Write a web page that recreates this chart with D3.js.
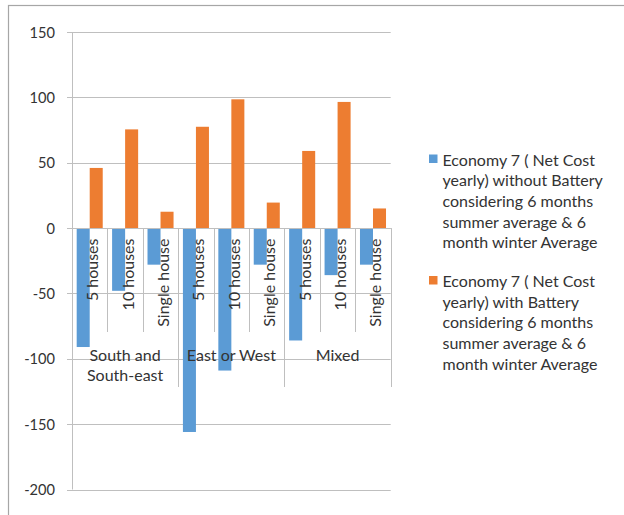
<!DOCTYPE html>
<html>
<head>
<meta charset="utf-8">
<script src="https://cdn.jsdelivr.net/npm/d3@7"></script>
<style>
  html, body { margin: 0; padding: 0; background: #fff; }
  svg text { font-family: Lato, "Open Sans", sans-serif; fill: #333; }
</style>
</head>
<body>
<svg id="chart" width="624" height="515"></svg>
<script>
// Net yearly cost, Economy 7 tariff, by orientation group and installation size
const groups = ["South and\nSouth-east", "East or West", "Mixed"];
const sizes = ["5 houses", "10 houses", "Single house"];
const withoutBattery = [-91, -48, -28, -156, -109, -28, -86, -36, -28];
const withBattery = [46, 75.5, 12.5, 77.5, 98.5, 19.5, 59, 96.5, 15];
const yTicks = [-200, -150, -100, -50, 0, 50, 100, 150];
const seriesNames = [
  "Economy 7 ( Net Cost yearly) without Battery considering 6 months summer average & 6 month winter Average",
  "Economy 7 ( Net Cost yearly) with Battery considering 6 months summer average & 6 month winter Average"
];
const legendLines = [
  ["Economy 7 ( Net Cost", "yearly) without Battery", "considering 6 months", "summer average & 6", "month winter Average"],
  ["Economy 7 ( Net Cost", "yearly) with Battery", "considering 6 months", "summer average & 6", "month winter Average"]
];
const colors = ["#5b9bd5", "#ed7d31"];

const svg = d3.select("#chart");
const gridColor = "#bfbfbf";
const tickFont = 14.6;
const labelFont = 16;

// Outer frame (continues past the right and bottom edges)
svg.append("rect")
  .attr("x", 8.5).attr("y", 5.5).attr("width", 700).attr("height", 600)
  .attr("fill", "none").attr("stroke", "#a6a6a6").attr("stroke-width", 1.2);

// Category keys: one per (group, size)
const cats = [];
groups.forEach((g, gi) => sizes.forEach((s, si) => cats.push({ key: gi + "-" + si, group: gi, size: s })));

const left = 72, right = 390.7;
const x = d3.scaleBand().domain(cats.map(c => c.key)).range([left, right]).padding(0);
const xs = d3.scaleBand().domain([0, 1]).range([0, x.bandwidth()]).paddingOuter(0.36).paddingInner(0);
const y = d3.scaleLinear().domain([-200, 150]).range([489.5, 32]);

// Horizontal gridlines (with small outward ticks)
svg.append("g").selectAll("line").data(yTicks).join("line")
  .attr("x1", left - 5).attr("x2", right)
  .attr("y1", d => Math.round(y(d)) + 0.5).attr("y2", d => Math.round(y(d)) + 0.5)
  .attr("stroke", gridColor).attr("stroke-width", 1);

// Y tick labels
svg.append("g").selectAll("text").data(yTicks).join("text")
  .attr("x", 55).attr("y", d => y(d))
  .attr("text-anchor", "end").attr("dominant-baseline", "central")
  .attr("font-size", tickFont)
  .text(d => d);

// Bars
const series = [withoutBattery, withBattery];
series.forEach((vals, si) => {
  svg.append("g").selectAll("rect").data(cats).join("rect")
    .attr("x", (c) => x(c.key) + xs(si))
    .attr("width", xs.bandwidth())
    .attr("y", (c, i) => y(Math.max(0, vals[i])))
    .attr("height", (c, i) => Math.abs(y(vals[i]) - y(0)))
    .attr("fill", colors[si]);
});

// Y axis line
svg.append("line")
  .attr("x1", left + 0.5).attr("x2", left + 0.5)
  .attr("y1", y(150)).attr("y2", y(-200))
  .attr("stroke", gridColor);

// Category axis: horizontal line at zero, separators between categories and groups
svg.append("line")
  .attr("x1", left).attr("x2", right)
  .attr("y1", Math.round(y(0)) + 0.5).attr("y2", Math.round(y(0)) + 0.5)
  .attr("stroke", gridColor);

const boundaries = d3.range(1, cats.length + 1);
svg.append("g").selectAll("line").data(boundaries).join("line")
  .attr("x1", i => Math.round(left + i * x.bandwidth()) + 0.5)
  .attr("x2", i => Math.round(left + i * x.bandwidth()) + 0.5)
  .attr("y1", y(0))
  .attr("y2", i => (i % sizes.length === 0) ? 387 : 332)
  .attr("stroke", gridColor);

// Rotated category labels
svg.append("g").selectAll("text").data(cats).join("text")
  .attr("transform", c => `translate(${x(c.key) + x.bandwidth() / 2 + 2},238.5) rotate(-90)`)
  .attr("text-anchor", "end").attr("dominant-baseline", "central")
  .attr("font-size", labelFont)
  .text(c => c.size);

// Group labels
groups.forEach((g, gi) => {
  const cx = left + (gi * sizes.length + sizes.length / 2) * x.bandwidth();
  const lines = g.split("\n");
  const t = svg.append("text")
    .attr("x", cx).attr("y", 353.5)
    .attr("text-anchor", "middle").attr("dominant-baseline", "central")
    .attr("font-size", labelFont);
  lines.forEach((ln, li) => {
    t.append("tspan").attr("x", cx).attr("dy", li === 0 ? 0 : 20.7).text(ln);
  });
});

// Legend
const legendTop = [159, 280.5];
legendLines.forEach((lines, si) => {
  const g = svg.append("g").attr("class", "legend-item");
  g.append("title").text(seriesNames[si]);
  g.append("rect")
    .attr("x", 429).attr("y", legendTop[si] - 4.5)
    .attr("width", 8.5).attr("height", 8.5)
    .attr("fill", colors[si]);
  lines.forEach((ln, li) => {
    g.append("text")
      .attr("x", 442.5).attr("y", legendTop[si] + li * 20.7)
      .attr("dominant-baseline", "central")
      .attr("font-size", labelFont)
      .text(ln);
  });
});
</script>
</body>
</html>
